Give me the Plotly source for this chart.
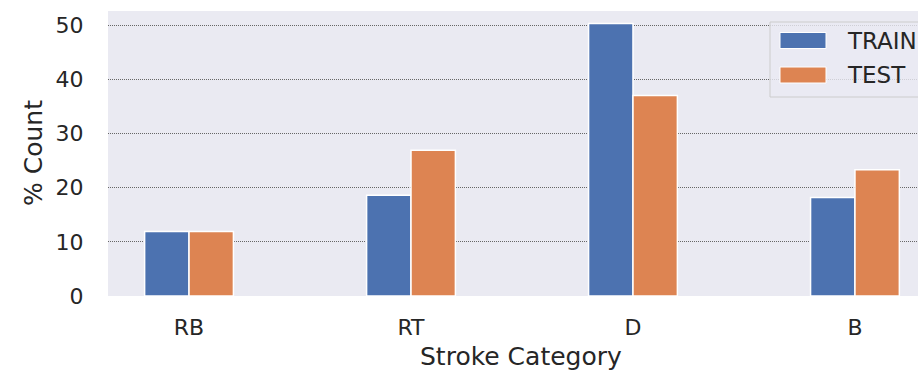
import plotly.graph_objects as go

categories = ["RB", "RT", "D", "B"]
train_pct = [11.9, 18.6, 50.3, 18.2]
test_pct = [11.9, 26.9, 37.0, 23.3]
series_names = ["TRAIN", "TEST"]
colors = ["#4C72B0", "#DD8452"]
y_ticks = [0, 10, 20, 30, 40, 50]

W, H = 918, 371
L, R, T, B = 108, 0, 11, 75
pw, ph = W - L - R, H - T - B

def px_x(px):
    return (px - L) / pw

def px_y(py):
    return (H - B - py) / ph

font_color = "#262626"
ffam = "DejaVu Sans"

fig = go.Figure()
for name, vals, col in zip(series_names, [train_pct, test_pct], colors):
    fig.add_trace(go.Bar(
        x=categories, y=vals, name=name,
        marker=dict(color=col, line=dict(color="white", width=1.5)),
        showlegend=False,
    ))

fig.update_layout(
    width=W, height=H,
    margin=dict(l=L, r=R, t=T, b=B, pad=0),
    paper_bgcolor="white",
    plot_bgcolor="#EAEAF2",
    barmode="group",
    bargap=0.6,
    bargroupgap=0.0,
    font=dict(family=ffam, color=font_color, size=22),
    xaxis=dict(
        range=[-0.365, 3.284],
        showgrid=False, zeroline=False, showline=False,
        ticks="outside", ticklen=12, tickcolor="rgba(0,0,0,0)",
        tickfont=dict(size=22, color=font_color),
    ),
    yaxis=dict(
        range=[0, 52.6],
        tickvals=y_ticks,
        showgrid=True, gridcolor="#666666", gridwidth=1.2, griddash="1px,1px",
        zeroline=False, showline=False,
        ticks="outside", ticklen=19, tickcolor="rgba(0,0,0,0)",
        tickfont=dict(size=22, color=font_color),
    ),
)

annotations = [
    dict(text="Stroke Category", xref="paper", yref="paper",
         x=px_x(521), y=px_y(356), xanchor="center", yanchor="middle",
         showarrow=False, font=dict(size=25, color=font_color, family=ffam)),
    dict(text="% Count", xref="paper", yref="paper", textangle=-90,
         x=px_x(33), y=px_y(153), xanchor="center", yanchor="middle",
         showarrow=False, font=dict(size=25, color=font_color, family=ffam)),
]

shapes = [
    dict(type="rect", xref="paper", yref="paper",
         x0=px_x(770), x1=px_x(940), y0=px_y(97), y1=px_y(22),
         fillcolor="rgba(234,234,242,0.8)", line=dict(color="#CCCCCC", width=1)),
]
legend_rows = [40.5, 75.0]
for name, col, cy in zip(series_names, colors, legend_rows):
    shapes.append(dict(type="rect", xref="paper", yref="paper",
                       x0=px_x(780), x1=px_x(826), y0=px_y(cy + 8), y1=px_y(cy - 8),
                       fillcolor=col, line=dict(color="white", width=1)))
    annotations.append(dict(text=name, xref="paper", yref="paper",
                            x=px_x(845), y=px_y(cy), xanchor="left", yanchor="middle",
                            showarrow=False,
                            font=dict(size=23, color=font_color, family=ffam)))

fig.update_layout(annotations=annotations, shapes=shapes)
fig.write_html(
    "out.html",
    config=dict(displayModeBar=False),
    post_script="document.body.style.margin='0';document.body.style.overflow='hidden';",
)
